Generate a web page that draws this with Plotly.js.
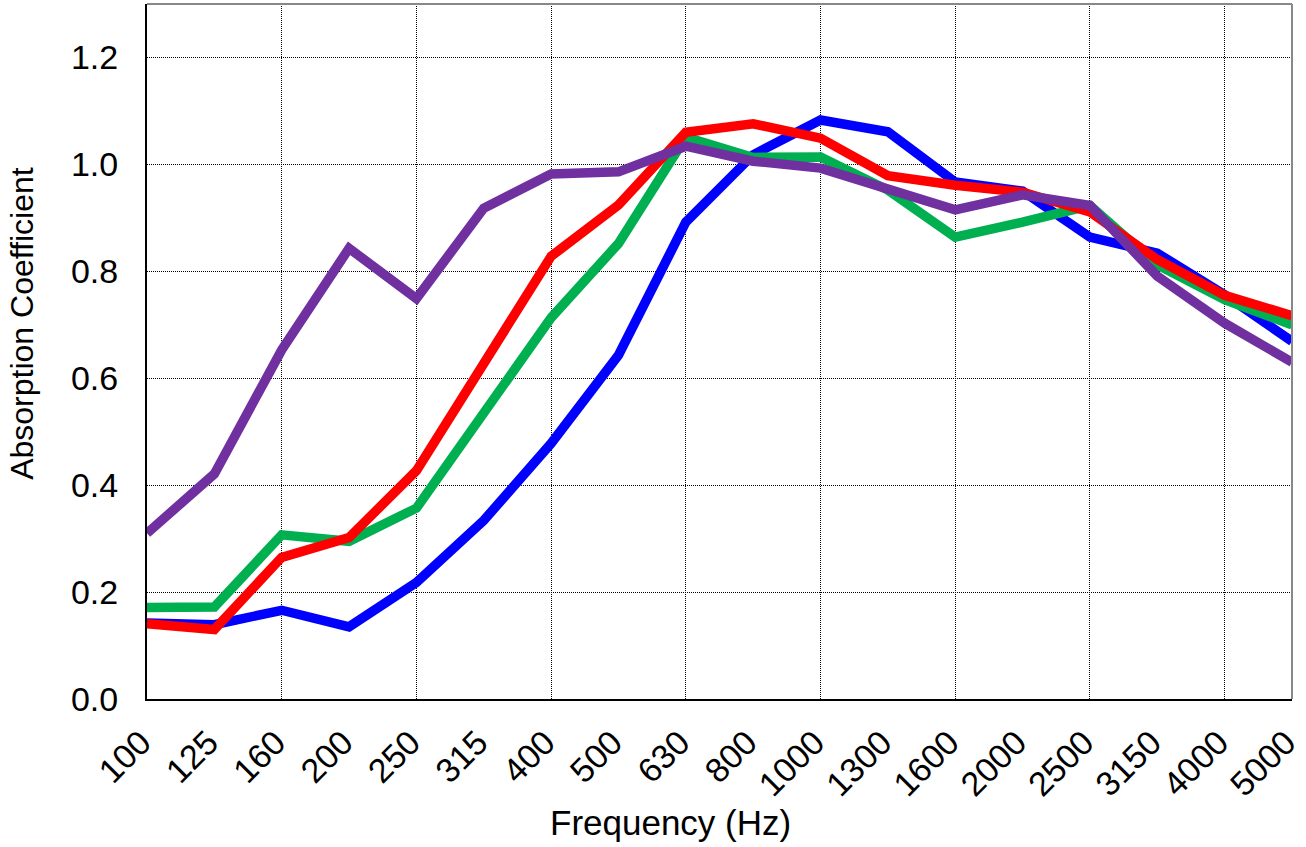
<!DOCTYPE html>
<html>
<head>
<meta charset="utf-8">
<script src="https://cdn.plot.ly/plotly-3.0.1.min.js"></script>
<style>
html,body{margin:0;padding:0;background:#fff;}
#chart{width:1306px;height:847px;}
</style>
</head>
<body>
<div id="chart"></div>
<script>
var frequencies = ['100','125','160','200','250','315','400','500','630','800','1000','1300','1600','2000','2500','3150','4000','5000'];
var blueSeries   = [0.142,0.139,0.166,0.135,0.218,0.334,0.478,0.643,0.892,1.018,1.083,1.061,0.967,0.950,0.864,0.834,0.756,0.669];
var greenSeries  = [0.171,0.172,0.307,0.295,0.357,0.538,0.713,0.852,1.051,1.013,1.014,0.952,0.864,0.892,0.923,0.812,0.747,0.700];
var redSeries    = [0.141,0.130,0.265,0.302,0.427,0.627,0.828,0.924,1.060,1.076,1.049,0.979,0.961,0.948,0.911,0.822,0.755,0.717];
var purpleSeries = [0.310,0.421,0.653,0.843,0.749,0.918,0.982,0.986,1.034,1.006,0.993,0.953,0.915,0.943,0.923,0.791,0.703,0.630];
var yTicks = [0, 0.2, 0.4, 0.6, 0.8, 1.0, 1.2];
var xTitle = 'Frequency (Hz)';
var yTitle = 'Absorption Coefficient';

var idx = frequencies.map(function(_, i){ return i; });
var gridIdx = idx.filter(function(i){ return i % 2 === 0; });

function series(y, color, xa){
  return {x: idx, y: y, type: 'scatter', mode: 'lines', xaxis: xa || 'x',
    line: {color: color, width: 9.5}, hoverinfo: 'skip', showlegend: false};
}

var data = [
  series(blueSeries, '#0000FF'),
  series(greenSeries, '#00B050'),
  series(redSeries, '#FF0000'),
  series(purpleSeries, '#7030A0', 'x2')
];

var fontFam = '"Liberation Sans", Arial, sans-serif';
var xRange = [0, 17.0005];

var layout = {
  width: 1306, height: 847,
  margin: {l: 147, r: 14, t: 4, b: 148},
  paper_bgcolor: '#fff', plot_bgcolor: '#fff',
  font: {family: fontFam, color: '#000', size: 34},
  showlegend: false,
  xaxis: {
    type: 'linear', range: xRange,
    tickmode: 'array', tickvals: idx, ticktext: frequencies,
    tickangle: -45, ticks: '', ticklabelstandoff: 8, ticklabelshift: -6,
    ticklabeloverflow: 'allow',
    showgrid: false, zeroline: false,
    showline: true, linecolor: '#000', linewidth: 2,
    tickfont: {size: 34, family: fontFam}
  },
  xaxis2: {
    overlaying: 'x', type: 'linear', range: xRange,
    tickmode: 'array', tickvals: gridIdx, showticklabels: false, ticks: '',
    showgrid: true, gridcolor: '#000', gridwidth: 1, griddash: '1px,1px',
    zeroline: false, showline: false
  },
  yaxis: {
    range: [0, 1.3],
    tickmode: 'array', tickvals: yTicks, tickformat: '.1f',
    ticks: '', ticklabelstandoff: 20,
    showgrid: true, gridcolor: '#000', gridwidth: 1, griddash: '1px,1px',
    zeroline: false,
    showline: true, linecolor: '#000', linewidth: 2,
    tickfont: {size: 34, family: fontFam}
  },
  annotations: [
    {text: xTitle, xref: 'paper', yref: 'paper', x: 0.4576, y: -0.178,
     xanchor: 'center', yanchor: 'middle', showarrow: false,
     font: {size: 35, family: fontFam, color: '#000'}},
    {text: yTitle, xref: 'paper', yref: 'paper', x: -0.1093, y: 0.541,
     xanchor: 'center', yanchor: 'middle', showarrow: false, textangle: -90,
     font: {size: 32, family: fontFam, color: '#000'}}
  ],
  shapes: [
    {type: 'line', xref: 'paper', yref: 'paper', x0: 0, x1: 1, y0: 1, y1: 1,
     line: {color: '#888', width: 2}},
    {type: 'line', xref: 'paper', yref: 'paper', x0: 1, x1: 1, y0: 0, y1: 1,
     line: {color: '#888', width: 2}}
  ]
};

Plotly.newPlot('chart', data, layout, {displayModeBar: false, staticPlot: true});
</script>
</body>
</html>
